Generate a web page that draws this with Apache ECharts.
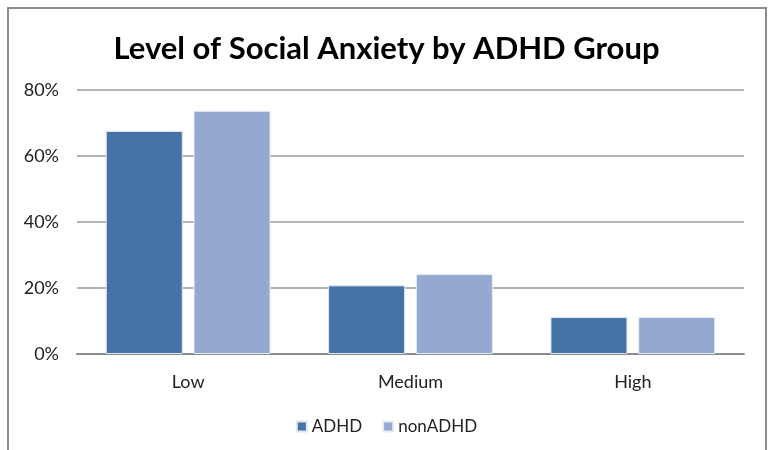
<!DOCTYPE html>
<html>
<head>
<meta charset="utf-8">
<script src="https://cdn.jsdelivr.net/npm/echarts@6/dist/echarts.min.js"></script>
<style>
html,body{margin:0;padding:0;background:#fff;}
#c{width:773px;height:450px;}
</style>
</head>
<body>
<div id="c"></div>
<script>
const categories = ['Low', 'Medium', 'High'];
const seriesNames = ['ADHD', 'nonADHD'];
const adhd = [67.6, 20.8, 11.2];
const nonAdhd = [73.7, 24.2, 11.2];
const yTicks = [0, 20, 40, 60, 80];

const chart = echarts.init(document.getElementById('c'));
const font = 'Lato, "Open Sans", sans-serif';
chart.setOption({
  animation: false,
  backgroundColor: '#fff',
  title: {
    text: 'Level of Social Anxiety by ADHD Group',
    left: 'center',
    top: 28,
    textStyle: {fontFamily: font, fontWeight: 'bold', fontSize: 31, color: '#000'}
  },
  graphic: [{
    type: 'rect',
    shape: {x: 8, y: 8, width: 758, height: 470},
    style: {fill: 'none', stroke: '#8c8c8c', lineWidth: 2},
    silent: true
  }],
  legend: {
    bottom: 10,
    left: 'center',
    itemWidth: 10,
    itemHeight: 10,
    itemGap: 20,
    icon: 'rect',
    textStyle: {fontFamily: font, fontSize: 17, color: '#222'},
    data: seriesNames
  },
  grid: {left: 77, right: 29, top: 90, bottom: 96},
  xAxis: {
    type: 'category',
    data: categories,
    axisLine: {lineStyle: {color: '#8c8c8c', width: 2}},
    axisTick: {show: false},
    axisLabel: {fontFamily: font, fontSize: 18, color: '#222', margin: 19}
  },
  yAxis: {
    type: 'value',
    min: yTicks[0],
    max: yTicks[yTicks.length - 1],
    interval: 20,
    axisLine: {show: false},
    axisTick: {show: false},
    axisLabel: {fontFamily: font, fontSize: 18, color: '#222', margin: 18, formatter: v => v + '%'},
    splitLine: {lineStyle: {color: '#9a9a9a', width: 1.5}}
  },
  series: [
    {name: seriesNames[0], type: 'bar', data: adhd, barWidth: 77, barGap: '14%',
     itemStyle: {color: '#4572A7', borderColor: '#dfe6f0', borderWidth: 1}},
    {name: seriesNames[1], type: 'bar', data: nonAdhd, barWidth: 77,
     itemStyle: {color: '#95A9D0', borderColor: '#e6ecf6', borderWidth: 1}}
  ]
});
</script>
</body>
</html>
